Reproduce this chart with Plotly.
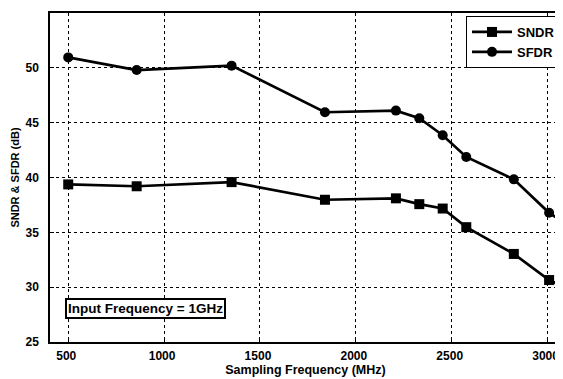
import plotly.graph_objects as go

freq = [500, 857, 1352, 1839, 2209, 2331, 2453, 2576, 2824, 3008, 3100]
sndr = [39.37, 39.2, 39.58, 37.97, 38.1, 37.57, 37.17, 35.47, 33.03, 30.65, 29.9]
sfdr = [50.95, 49.8, 50.2, 45.95, 46.1, 45.4, 43.85, 41.87, 39.83, 36.78, 35.74]

x_ticks = [500, 1000, 1500, 2000, 2500, 3000]
y_ticks = [25, 30, 35, 40, 45, 50, 55]

FONT = "Liberation Sans"

fig = go.Figure()
fig.add_trace(go.Scatter(
    x=freq, y=sndr, mode="lines+markers", name="<b>SNDR</b>",
    line=dict(color="black", width=2.7),
    marker=dict(symbol="square", size=10, color="black"),
))
fig.add_trace(go.Scatter(
    x=freq, y=sfdr, mode="lines+markers", name="<b>SFDR</b>",
    line=dict(color="black", width=2.7),
    marker=dict(symbol="circle", size=10, color="black"),
))

axis_common = dict(
    showline=True, linecolor="black", linewidth=1.5, mirror=True,
    showgrid=True, gridcolor="black", gridwidth=1, griddash="dot",
    ticks="inside", ticklen=4, tickcolor="black", tickwidth=1,
    zeroline=False,
    tickfont=dict(family=FONT, size=12, color="black", weight="bold"),
)

# The page body adds an 8px margin; the figure is sized to fit the 563x379 window.
fig.update_layout(
    width=555, height=371,
    margin=dict(l=42, r=0, t=5, b=37),
    paper_bgcolor="white", plot_bgcolor="white",
    font=dict(family=FONT, color="black"),
    xaxis=dict(
        range=[405, 3070], tickvals=x_ticks, ticklabelstandoff=2,
        ticklabelshift=-2, ticklabeloverflow="allow",
        title=dict(text="<b>Sampling Frequency (MHz)</b>", standoff=3,
                   font=dict(family=FONT, size=12.5, color="black")),
        **axis_common,
    ),
    yaxis=dict(
        range=[25, 55], tickvals=y_ticks, ticklabelstandoff=7,
        title=dict(text="<b>SNDR &amp; SFDR (dB)</b>", standoff=4,
                   font=dict(family=FONT, size=11, color="black")),
        **axis_common,
    ),
    legend=dict(
        x=1, y=1 - 3 / 329, xanchor="right", yanchor="top",
        bgcolor="white", bordercolor="black", borderwidth=1,
        font=dict(family=FONT, size=13, color="black"),
        tracegroupgap=0, itemwidth=40,
    ),
    showlegend=True,
    annotations=[dict(
        text="<b>Input Frequency = 1GHz</b>",
        xref="paper", yref="paper",
        x=(65 - 50) / 513, y=(342 - 308) / 329,
        xanchor="left", yanchor="middle",
        showarrow=False,
        bordercolor="black", borderwidth=2, borderpad=1,
        bgcolor="white",
        font=dict(family=FONT, size=13.5, color="black"),
    )],
)

fig.write_html("out.html")
